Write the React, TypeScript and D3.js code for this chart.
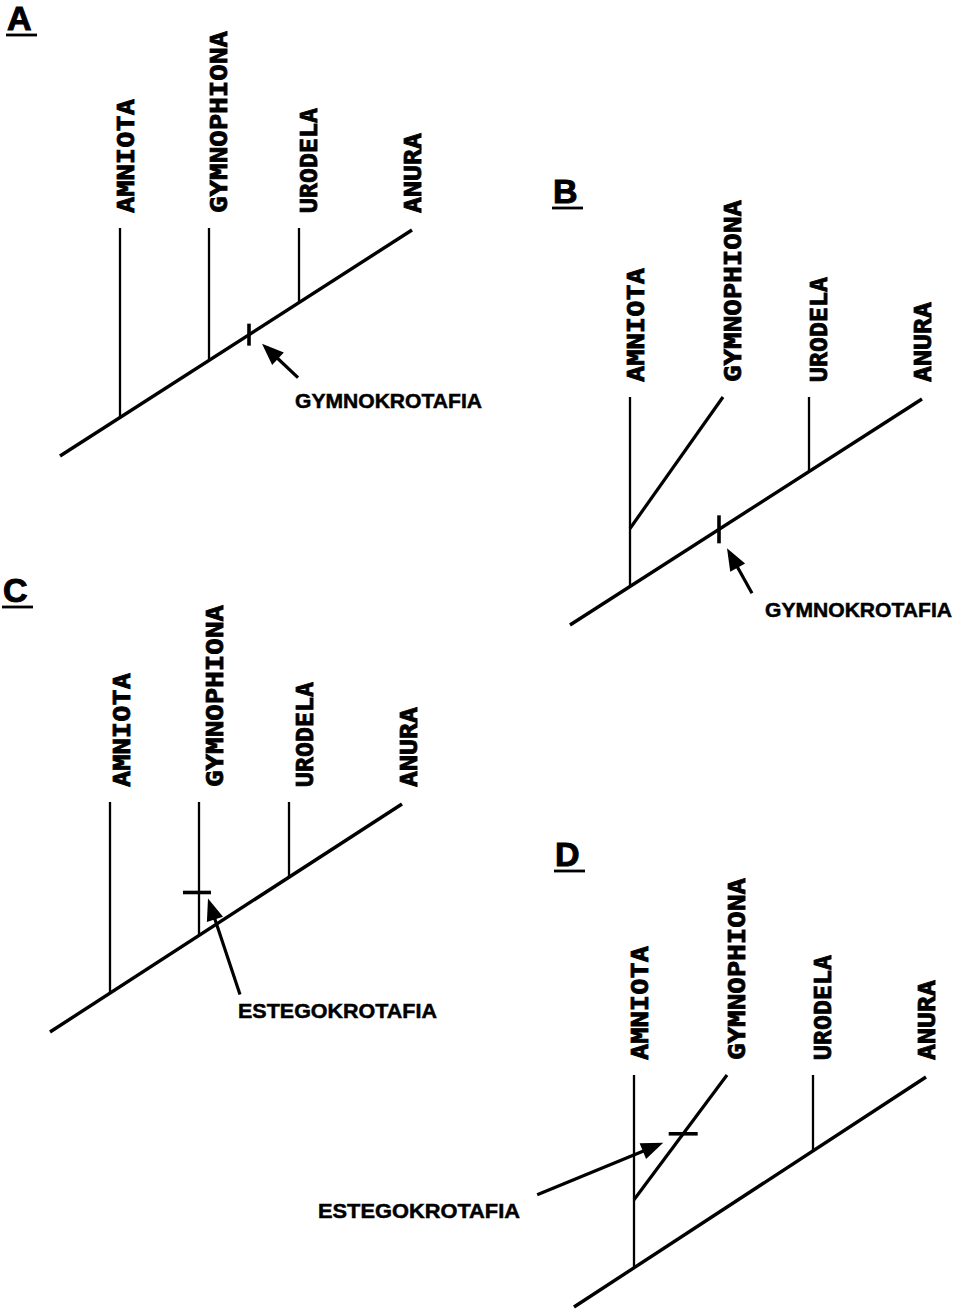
import React from "react";
import * as d3 from "d3";

// ---- data ----
const panelIds = ["A", "B", "C", "D"];
const taxa = ["AMNIOTA", "GYMNOPHIONA", "URODELA", "ANURA"];
const taxonLabelLength = [114, 182, 105, 80];
// branch points along the root axis (horizontal distance from the root)
const branchPos = [60, 149, 239, 352];
const gymnoTipPosSister = 153;
const gymnoSister = [false, true, false, true];
const gymnoSplitHeight = [0, 58, 0, 68];
const characterName = ["GYMNOKROTAFIA", "GYMNOKROTAFIA", "ESTEGOKROTAFIA", "ESTEGOKROTAFIA"];
const characterLabelLength = [187, 187, 199, 202];
const characterOn = ["backbone", "backbone", "gymno", "gymno"];
const characterPos = [189, 149, 43, 66];

// ---- layout ----
const ROOT_LEN = 352;
const origins = [[60, 456], [570, 625], [50, 1032], [574, 1307]];
const rises = [226, 226, 228, 230];
const letterPos = [[7, 30], [553, 203], [3, 602], [555, 866]];
const markLen = [22, 28, 28, 29];
const arrowTipOff = [[13, 9], [8, 19], [9, 6], [-20, 9]];
const arrowTailOff = [[49, 43], [33, 64], [41, 102], [-146, 61]];
const charLabelPos = [[295, 408], [765, 617], [238, 1018], [318, 1218]];
const labelShift = [0, 0, 6, 0];
const labelOffsets = [14, 18, 18, 9];
const LABEL_GAP = 15;

const TAXON_FONT = "'DejaVu Sans Mono', monospace";
const SANS = "'Liberation Sans', Arial, Helvetica, sans-serif";

function Arrow({ tail, tip }: { tail: number[]; tip: number[] }) {
  const dx = tip[0] - tail[0];
  const dy = tip[1] - tail[1];
  const len = Math.hypot(dx, dy);
  const ux = dx / len, uy = dy / len;
  const nx = -uy, ny = ux;
  const L = 22, W = 8.5;
  const bx = tip[0] - L * ux, by = tip[1] - L * uy;
  const head = [
    [tip[0], tip[1]],
    [bx + W * nx, by + W * ny],
    [bx - W * nx, by - W * ny],
  ];
  return (
    <g>
      <line x1={tail[0]} y1={tail[1]} x2={bx + 4 * ux} y2={by + 4 * uy} stroke="#000" strokeWidth={3.2} />
      <polygon points={head.map((p) => p.join(",")).join(" ")} fill="#000" />
    </g>
  );
}

function Panel({ i }: { i: number }) {
  const [ox, oy] = origins[i];
  const x = d3.scaleLinear().domain([0, ROOT_LEN]).range([ox, ox + ROOT_LEN]);
  const y = d3.scaleLinear().domain([0, ROOT_LEN]).range([oy, oy - rises[i]]);
  const tipY = oy - rises[i] - 2;
  const line = d3.line();

  // branch geometry
  const amnX = x(branchPos[0]);
  const amnBase = y(branchPos[0]);
  let gymnoBase: number[];
  let gymnoTip: number[];
  if (gymnoSister[i]) {
    gymnoBase = [amnX, amnBase - gymnoSplitHeight[i]];
    gymnoTip = [x(gymnoTipPosSister), tipY];
  } else {
    gymnoBase = [x(branchPos[1]), y(branchPos[1])];
    gymnoTip = [x(branchPos[1]), tipY];
  }
  const tips = [
    [amnX, tipY],
    gymnoTip,
    [x(branchPos[2]), tipY],
    [x(branchPos[3]), y(branchPos[3])],
  ];

  // character mark
  let mark: number[];
  let markPath: [number, number][];
  if (characterOn[i] === "backbone") {
    mark = [x(characterPos[i]), y(characterPos[i])];
    markPath = [[mark[0], mark[1] - markLen[i] / 2], [mark[0], mark[1] + markLen[i] / 2]];
  } else {
    const my = gymnoBase[1] - characterPos[i];
    const t = (gymnoBase[1] - my) / (gymnoBase[1] - gymnoTip[1]);
    const mx = gymnoBase[0] + t * (gymnoTip[0] - gymnoBase[0]);
    mark = [mx, my];
    const c = gymnoSister[i] ? mx : mx - 2;
    markPath = [[c - markLen[i] / 2, my], [c + markLen[i] / 2, my]];
  }
  const tip = [mark[0] + arrowTipOff[i][0], mark[1] + arrowTipOff[i][1]];
  const tail = [mark[0] + arrowTailOff[i][0], mark[1] + arrowTailOff[i][1]];

  const [lx, ly] = letterPos[i];

  return (
    <g>
      {/* panel letter */}
      <text x={lx} y={ly} fontFamily={SANS} fontWeight="bold" fontSize={34} fill="#000" stroke="#000" strokeWidth={1}>
        {panelIds[i]}
      </text>
      <line x1={lx - 1} x2={lx + 30} y1={ly + 5} y2={ly + 5} stroke="#000" strokeWidth={2.8} />

      {/* backbone */}
      <path d={line([[x(0), y(0)], [x(ROOT_LEN), y(ROOT_LEN)]]) || ""} stroke="#000" strokeWidth={3.4} fill="none" />
      {/* Amniota */}
      <path d={line([[amnX, amnBase], [amnX, tipY]]) || ""} stroke="#000" strokeWidth={2.3} fill="none" />
      {/* Gymnophiona */}
      <path
        d={line([gymnoBase as [number, number], gymnoTip as [number, number]]) || ""}
        stroke="#000"
        strokeWidth={gymnoSister[i] ? 3.2 : 2.3}
        fill="none"
      />
      {/* Urodela */}
      <path d={line([[x(branchPos[2]), y(branchPos[2])], [x(branchPos[2]), tipY]]) || ""} stroke="#000" strokeWidth={2.3} fill="none" />

      {/* character mark */}
      <path d={line(markPath) || ""} stroke="#000" strokeWidth={3.6} fill="none" />
      <Arrow tail={tail} tip={tip} />
      <text
        x={charLabelPos[i][0]}
        y={charLabelPos[i][1]}
        fontFamily={SANS}
        fontWeight="bold"
        fontSize={21}
        textLength={characterLabelLength[i]}
        lengthAdjust="spacingAndGlyphs"
        fill="#000"
        stroke="#000"
        strokeWidth={0.5}
      >
        {characterName[i]}
      </text>

      {/* taxon labels */}
      {taxa.map((name, k) => {
        const rx = tips[k][0] + labelOffsets[k] + labelShift[i];
        const by = tipY - LABEL_GAP;
        return (
          <text
            key={name}
            transform={`translate(${rx},${by}) rotate(-90)`}
            fontFamily={TAXON_FONT}
            fontWeight="bold"
            fontSize={23}
            textLength={taxonLabelLength[k]}
            lengthAdjust="spacingAndGlyphs"
            fill="#000"
            stroke="#000"
            strokeWidth={0.8}
          >
            {name}
          </text>
        );
      })}
    </g>
  );
}

export default function App() {
  return (
    <svg
      width={962}
      height={1309}
      viewBox="0 0 962 1309"
      style={{ position: "absolute", left: 0, top: 0, background: "#fff" }}
    >
      <rect width={962} height={1309} fill="#fff" />
      {panelIds.map((_, i) => (
        <Panel key={i} i={i} />
      ))}
    </svg>
  );
}
